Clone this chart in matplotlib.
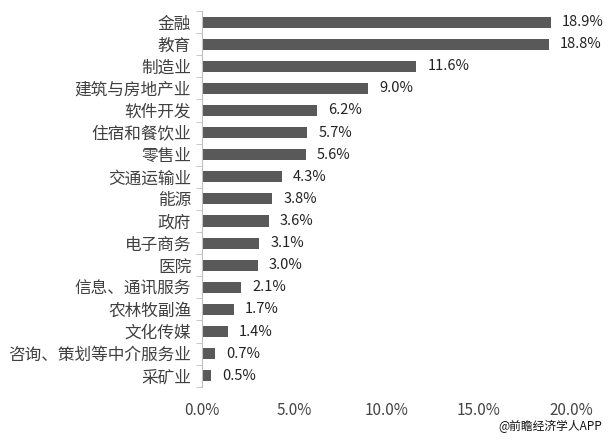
import matplotlib.pyplot as plt
import numpy as np

plt.rcParams['font.family'] = ['Noto Sans CJK SC', 'DejaVu Sans']

# Data (top to bottom)
industries = ["金融", "教育", "制造业", "建筑与房地产业", "软件开发", "住宿和餐饮业",
              "零售业", "交通运输业", "能源", "政府", "电子商务", "医院",
              "信息、通讯服务", "农林牧副渔", "文化传媒", "咨询、策划等中介服务业", "采矿业"]
shares = [18.9, 18.8, 11.6, 9.0, 6.2, 5.7, 5.6, 4.3, 3.8, 3.6, 3.1, 3.0,
          2.1, 1.7, 1.4, 0.7, 0.5]
xticks = [0, 5, 10, 15, 20]

fig = plt.figure(figsize=(6.11, 4.42), dpi=100)
ax = fig.add_axes([0.331, 0.125, 0.604, 0.85])

y = np.arange(len(industries))
ax.barh(y, shares, height=0.5, color="#595959")

for yi, v in zip(y, shares):
    ax.text(v + 0.6, yi, f"{v:.1f}%", va="center", ha="left",
            fontsize=10.5, color="#222222")

ax.set_yticks(y)
ax.set_yticklabels(industries, fontsize=12, color="#404040")
ax.set_yticks(np.arange(-0.5, len(industries), 1), minor=True)
ax.tick_params(axis="y", which="major", length=0, pad=8)
ax.tick_params(axis="y", which="minor", length=4, color="#bfbfbf")
ax.set_ylim(len(industries) - 0.5, -0.5)

ax.set_xlim(0, 20)
ax.set_xticks(xticks)
ax.set_xticklabels([f"{t:.1f}%" for t in xticks], fontsize=11, color="#444444")
ax.tick_params(axis="x", length=0, pad=11)

for s in ["top", "right", "bottom"]:
    ax.spines[s].set_visible(False)
ax.spines["left"].set_color("#bfbfbf")

fig.text(0.985, 0.02, "@前瞻经济学人APP", ha="right", va="bottom",
         fontsize=8.5, color="#111111")

fig.savefig("out.png", dpi=100)
